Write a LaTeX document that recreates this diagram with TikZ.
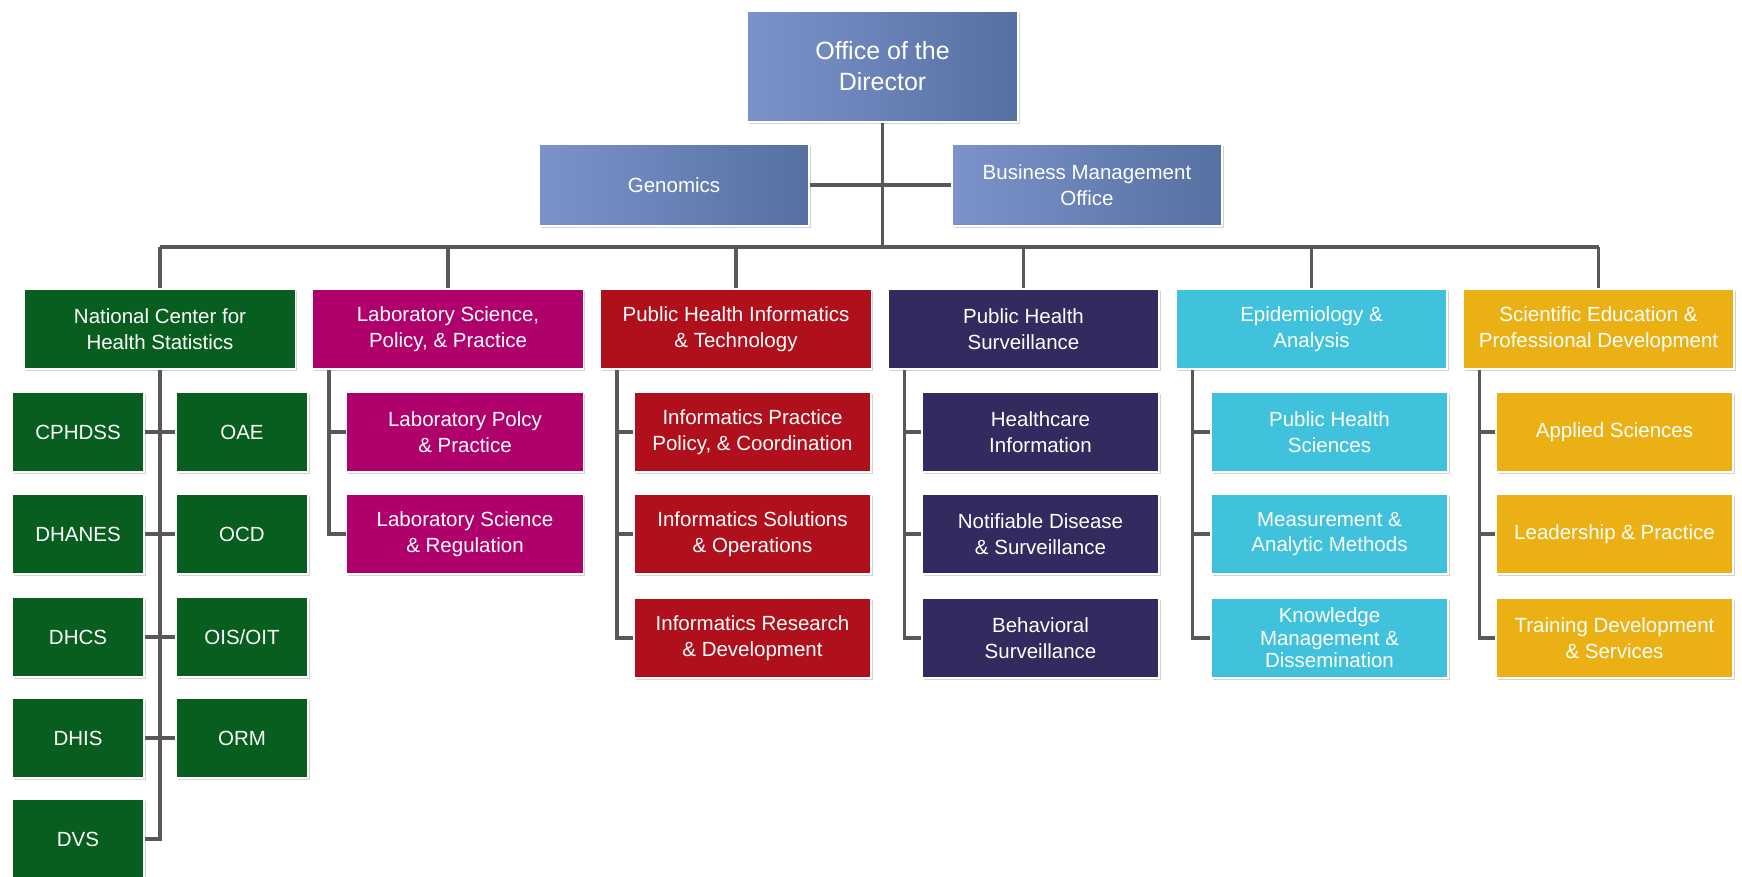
\documentclass[tikz,border=0pt]{standalone}
\usepackage{fontspec}
\setmainfont{Liberation Sans}
\usetikzlibrary{shadows}
\definecolor{blueL}{RGB}{123,147,202}
\definecolor{blueR}{RGB}{86,112,162}
\definecolor{cgreen}{RGB}{8,94,30}
\definecolor{cmag}{RGB}{176,0,108}
\definecolor{cred}{RGB}{176,16,28}
\definecolor{cpurp}{RGB}{52,42,96}
\definecolor{ccyan}{RGB}{64,194,220}
\definecolor{cgold}{RGB}{234,176,20}
\definecolor{lineg}{RGB}{88,88,88}
\begin{document}
\begin{tikzpicture}[x=1pt,y=-1pt,
  box/.style={rectangle, draw=white, line width=1.2pt, text=white, align=center,
    inner sep=1pt, font=\fontsize{20.5}{25.5}\selectfont,
    drop shadow={opacity=0.35, shadow xshift=1.5pt, shadow yshift=-2pt}},
  bluebox/.style={box, left color=blueL, right color=blueR, minimum width=270pt},
  lvl/.style={box, minimum width=271pt, minimum height=80pt},
  sub/.style={box, minimum width=237pt, minimum height=80pt},
  small/.style={box, minimum width=132pt, minimum height=80pt},
  conn/.style={draw=lineg, line width=3.5pt}
]
\useasboundingbox (0,0) rectangle (1742,877);

% top level
\node[bluebox, minimum width=271pt, minimum height=111pt, font=\fontsize{25}{31}\selectfont] (dir) at (882.5,66.5) {Office of the\\Director};
\node[bluebox, minimum height=82pt] (gen) at (674,185) {Genomics};
\node[bluebox, minimum height=82pt] (bmo) at (1087,185) {Business Management\\Office};

% level 2
\node[lvl, fill=cgreen] (nchs) at (160,329) {National Center for\\Health Statistics};
\node[lvl, fill=cmag] (lab) at (448,329) {Laboratory Science,\\Policy, \& Practice};
\node[lvl, fill=cred] (phit) at (736,329) {Public Health Informatics\\\& Technology};
\node[lvl, fill=cpurp] (phs) at (1023.5,329) {Public Health\\Surveillance};
\node[lvl, fill=ccyan] (epi) at (1311.5,329) {Epidemiology \&\\Analysis};
\node[lvl, fill=cgold] (sepd) at (1598.5,329) {Scientific Education \&\\Professional Development};

% NCHS children
\node[small, fill=cgreen] (cphdss) at (78,432) {CPHDSS};
\node[small, fill=cgreen] (dhanes) at (78,534) {DHANES};
\node[small, fill=cgreen] (dhcs) at (78,637) {DHCS};
\node[small, fill=cgreen] (dhis) at (78,738) {DHIS};
\node[small, fill=cgreen] (dvs) at (78,839) {DVS};
\node[small, fill=cgreen] (oae) at (242,432) {OAE};
\node[small, fill=cgreen] (ocd) at (242,534) {OCD};
\node[small, fill=cgreen] (ois) at (242,637) {OIS/OIT};
\node[small, fill=cgreen] (orm) at (242,738) {ORM};

% other children
\node[sub, fill=cmag] (lab1) at (465,432) {Laboratory Polcy\\\& Practice};
\node[sub, fill=cmag] (lab2) at (465,534) {Laboratory Science\\\& Regulation};

\node[sub, fill=cred] (phit1) at (752.5,432) {Informatics Practice\\Policy, \& Coordination};
\node[sub, fill=cred] (phit2) at (752.5,534) {Informatics Solutions\\\& Operations};
\node[sub, fill=cred] (phit3) at (752.5,638) {Informatics Research\\\& Development};

\node[sub, fill=cpurp] (phs1) at (1040.5,432) {Healthcare\\Information};
\node[sub, fill=cpurp] (phs2) at (1040.5,534) {Notifiable Disease\\\& Surveillance};
\node[sub, fill=cpurp] (phs3) at (1040.5,638) {Behavioral\\Surveillance};

\node[sub, fill=ccyan] (epi1) at (1329.5,432) {Public Health\\Sciences};
\node[sub, fill=ccyan] (epi2) at (1329.5,534) {Measurement \&\\Analytic Methods};
\node[sub, fill=ccyan, font=\fontsize{20.5}{22.5}\selectfont] (epi3) at (1329.5,638) {Knowledge\\Management \&\\Dissemination};

\node[sub, fill=cgold] (sepd1) at (1614.5,432) {Applied Sciences};
\node[sub, fill=cgold] (sepd2) at (1614.5,534) {Leadership \& Practice};
\node[sub, fill=cgold] (sepd3) at (1614.5,638) {Training Development\\\& Services};

% connectors: top
\coordinate (bus) at (882.5,247);
\draw[conn] (dir.south) -- (bus);
\draw[conn] (gen.east) -- (bmo.west);
\draw[conn] (nchs.north |- bus) -- (sepd.north |- bus);
\foreach \n in {nchs,lab,phit,phs,epi,sepd} {
  \draw[conn] (\n.north) -- (\n.north |- bus);
}

% NCHS spine
\draw[conn] (nchs.south) |- (dvs.east);
\foreach \a/\b in {cphdss/oae,dhanes/ocd,dhcs/ois,dhis/orm} {
  \draw[conn] (\a.east) -- (\b.west);
}

% other spines
\foreach \p/\last/\kids in {lab/lab2/{lab1},phit/phit3/{phit1,phit2},phs/phs3/{phs1,phs2},epi/epi3/{epi1,epi2},sepd/sepd3/{sepd1,sepd2}} {
  \coordinate (sp\p) at ([xshift=17pt]\p.south west);
  \draw[conn] (sp\p) |- (\last.west);
  \foreach \k in \kids {
    \draw[conn] (\k.west) -- (\k.west -| sp\p);
  }
}
\end{tikzpicture}
\end{document}
